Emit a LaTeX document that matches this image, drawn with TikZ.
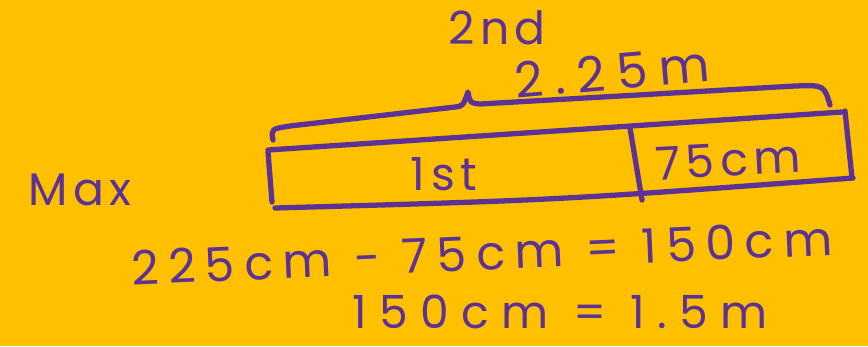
\documentclass[tikz,border=0pt]{standalone}
\usepackage{fontspec}
\setmainfont{Poppins}
\newfontfamily\handfont[LetterSpace=12]{Poppins}
\newcommand\spread[1]{\addfontfeature{LetterSpace=#1}}
\usetikzlibrary{positioning}
\definecolor{sheet}{RGB}{255,192,0}
\definecolor{ink}{RGB}{92,50,150}
\tikzset{
  pen/.style={draw=ink,line width=3pt,line cap=round,line join=round},
  hand/.style={text=ink,inner sep=0pt,font=\handfont\fontsize{26}{26}\selectfont}
}
\begin{document}
\begin{tikzpicture}[x=0.02cm,y=-0.02cm]
    \fill[sheet] (0,0) rectangle (868,346);
    \useasboundingbox (0,0) rectangle (868,346);
    %% brace over the bar
    \draw[pen] (273,140) .. controls (271,129) .. (290,126) -- (455,107)
        .. controls (463,106) .. (468,92) .. controls (470,103) .. (480,104)
        -- (795,86) .. controls (824,85) .. (830,105);
    %% the bar
    \draw[pen] (268,150) -- (842,112);
    \draw[pen] (845,111) -- (852,178);
    \draw[pen] (853,178) .. controls (560,200) .. (275,208);
    \draw[pen] (268,152) -- (272,202);
    \draw[pen] (630,128) -- (642,200);
    %
    \node[hand] (second) at (497,28) {2nd};
    \node[hand,rotate=5,font=\handfont\fontsize{28}{28}\selectfont\spread{24}] (whole) at (612,72) {2.25m};
    \node[hand] (first) at (444,174) {1st};
    \node[hand,rotate=3] (part) at (728,160) {75cm};
    \node[hand] (max) at (80,190) {Max};
    \node[hand,rotate=2.5,font=\handfont\fontsize{27}{27}\selectfont\spread{20}] (sum) at (482,253) {225cm − 75cm = 150cm};
    \node[hand,font=\handfont\fontsize{26}{26}\selectfont\spread{27}] (metre) at (560,312) {150cm = 1.5m};
\end{tikzpicture}
\end{document}
